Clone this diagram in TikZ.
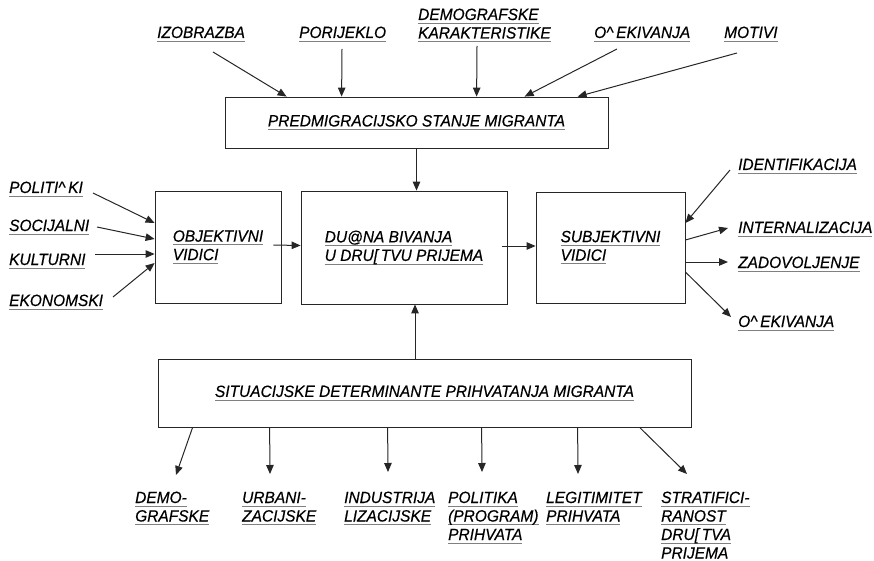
\documentclass[tikz,border=0pt]{standalone}
\usepackage{fontspec}
\setmainfont{Liberation Sans}[FakeStretch=0.95, FakeBold=0.4]
\usepackage{xcolor}
\usetikzlibrary{arrows.meta}

\newsavebox{\ulbox}
\newcommand{\ulin}[1]{\sbox{\ulbox}{#1}\rlap{\color{black!50}\rule[-3.5pt]{\wd\ulbox}{0.9pt}}\usebox{\ulbox}}
\newcommand{\lblfont}{\fontsize{16.3}{18.5}\selectfont\itshape}

\tikzset{
  box/.style={draw=black!85, line width=0.8pt, inner sep=0pt, font=\lblfont, align=left},
  lbl/.style={font=\lblfont, align=left, inner sep=0pt, anchor=base west},
  arr/.style={-{Triangle[length=9pt,width=7.5pt]}, line width=1pt, draw=black!85},
}

\begin{document}
\begin{tikzpicture}[x=1pt, y=-1pt]
\useasboundingbox (0,0) rectangle (874,561);

% Boxes
\node[box, minimum width=383pt, minimum height=51pt] (pre) at (416.5,122.5) {\ulin{PREDMIGRACIJSKO STANJE MIGRANTA}};
\node[box, minimum width=126pt, minimum height=112pt] (obj) at (218,247) {\ulin{OBJEKTIVNI}\\\ulin{VIDICI}};
\node[box, minimum width=206pt, minimum height=113pt] (dug) at (404,247.5) {\ulin{DU@NA BIVANJA}\\\ulin{U DRU[\,TVU PRIJEMA}};
\node[box, minimum width=149pt, minimum height=111pt] (sub) at (610.5,247.5) {\ulin{SUBJEKTIVNI}\\\ulin{VIDICI}};
\node[box, minimum width=533pt, minimum height=68pt] (sit) at (424.5,393) {\ulin{SITUACIJSKE DETERMINANTE PRIHVATANJA MIGRANTA}};

% Top inputs (multi-line labels sit on their last baseline)
\node[lbl] (izo) at (157,38) {\ulin{IZOBRAZBA}};
\node[lbl] (por) at (299,38) {\ulin{PORIJEKLO}};
\node[lbl] (dem) at (418,38.5) {\ulin{DEMOGRAFSKE}\\\ulin{KARAKTERISTIKE}};
\node[lbl] (oce) at (594,38) {\ulin{O\textasciicircum\,EKIVANJA}};
\node[lbl] (mot) at (724,38) {\ulin{MOTIVI}};

\draw[arr] ([xshift=56pt,yshift=-14pt]izo.base west) -- ([xshift=62pt]pre.north west);
\draw[arr] ([xshift=43pt,yshift=-11pt]por.base west) -- ([xshift=117pt]pre.north west);
\draw[arr] ([xshift=59pt,yshift=-7.5pt]dem.base west) -- ([xshift=252pt]pre.north west);
\draw[arr] ([xshift=23pt,yshift=-11pt]oce.base west) -- ([xshift=300pt]pre.north west);
\draw[arr] ([xshift=13pt,yshift=-15pt]mot.base west) -- ([xshift=353pt]pre.north west);
\draw[arr] (pre.south) -- (pre.south |- dug.north);

% Left inputs
\node[lbl] (pol) at (9,193) {\ulin{POLITI\textasciicircum\,KI}};
\node[lbl] (soc) at (9,231) {\ulin{SOCIJALNI}};
\node[lbl] (kul) at (9,265) {\ulin{KULTURNI}};
\node[lbl] (eko) at (9,306) {\ulin{EKONOMSKI}};

\draw[arr] ([xshift=84pt]pol.base west) -- ([yshift=24pt]obj.west);
\draw[arr] ([xshift=88pt,yshift=4pt]soc.base west) -- ([yshift=8pt]obj.west);
\draw[arr] ([xshift=86pt,yshift=11pt]kul.base west) -- ([yshift=-7pt]obj.west);
\draw[arr] ([xshift=104pt,yshift=9pt]eko.base west) -- ([yshift=-16pt]obj.west);

% Main chain
\draw[arr] ([xshift=-8pt,yshift=2pt]obj.east) -- ([yshift=2pt]dug.west);
\draw[arr] ([xshift=-5pt,yshift=1.5pt]dug.east) -- ([yshift=1.5pt]sub.west);

% Right side
\node[lbl] (idf) at (738,170) {\ulin{IDENTIFIKACIJA}};
\node[lbl] (int) at (738,233) {\ulin{INTERNALIZACIJA}};
\node[lbl] (zad) at (738,268) {\ulin{ZADOVOLJENJE}};
\node[lbl] (oc2) at (738,327) {\ulin{O\textasciicircum\,EKIVANJA}};

\draw[arr] ([xshift=-8pt]idf.base west) -- ([yshift=24.5pt]sub.east);
\draw[arr] ([yshift=7.5pt]sub.east) -- ([xshift=-10pt,yshift=5pt]int.base west);
\draw[arr] ([yshift=-14.5pt]sub.east) -- ([xshift=-10pt,yshift=6pt]zad.base west);
\draw[arr] ([yshift=-24.5pt]sub.east) -- ([xshift=-7pt,yshift=10pt]oc2.base west);

% Bottom
\draw[arr] ([xshift=-9.5pt]sit.north) -- ([xshift=-9.5pt]sit.north |- dug.south);

\node[lbl] (dmg) at (135,521.5) {\ulin{DEMO-}\\\ulin{GRAFSKE}};
\node[lbl] (urb) at (242,521.5) {\ulin{URBANI-}\\\ulin{ZACIJSKE}};
\node[lbl] (ind) at (344,521.5) {\ulin{INDUSTRIJA}\\\ulin{LIZACIJSKE}};
\node[lbl] (plt) at (448,540) {\ulin{POLITIKA}\\\ulin{(PROGRAM)}\\\ulin{PRIHVATA}};
\node[lbl] (leg) at (546,521.5) {\ulin{LEGITIMITET}\\\ulin{PRIHVATA}};
\node[lbl] (str) at (661,558.5) {\ulin{STRATIFICI-}\\\ulin{RANOST}\\\ulin{DRU[\,TVA}\\\ulin{PRIJEMA}};

\draw[arr] ([xshift=35pt]sit.south west) -- ([xshift=41pt,yshift=46.5pt]dmg.base west);
\draw[arr] ([xshift=112pt]sit.south west) -- ([xshift=28pt,yshift=47.5pt]urb.base west);
\draw[arr] ([xshift=230pt]sit.south west) -- ([xshift=44pt,yshift=49.5pt]ind.base west);
\draw[arr] ([xshift=324pt]sit.south west) -- ([xshift=34pt,yshift=68pt]plt.base west);
\draw[arr] ([xshift=420pt]sit.south west) -- ([xshift=32pt,yshift=47.5pt]leg.base west);
\draw[arr] ([xshift=482pt]sit.south west) -- ([xshift=26pt,yshift=84.5pt]str.base west);

\end{tikzpicture}
\end{document}
